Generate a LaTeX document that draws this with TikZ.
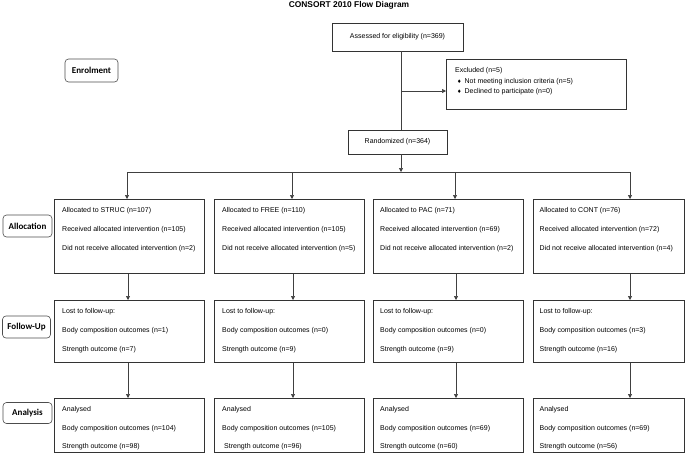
\documentclass[tikz,border=0pt]{standalone}
\usepackage{fontspec}
\setmainfont{Liberation Sans}
\newfontfamily\labfont{Carlito}
\newfontfamily\symfont{DejaVu Sans}
\usetikzlibrary{arrows.meta}
\newcommand\mydia{{\symfont\fontsize{5}{5}\selectfont ♦}}
\begin{document}
\begin{tikzpicture}[x=1pt,y=-1pt,
  box/.style={draw=black!80, line width=0.7pt, rectangle, inner sep=0pt, anchor=north west},
  cbox/.style={box, anchor=center, font=\fontsize{7}{8}\selectfont},
  lab/.style={draw=black!70, line width=0.6pt, rounded corners=3.5pt, inner sep=0pt,
    font=\labfont\bfseries\fontsize{9}{10}\selectfont},
  txt/.style={anchor=north west, align=left, inner sep=0pt, font=\fontsize{7}{19}\selectfont},
  txtb/.style={txt, font=\fontsize{7}{18.5}\selectfont},
  conn/.style={draw=black!75, line width=0.7pt},
  arr/.style={conn, -{Triangle[length=4pt,width=4pt]}}
]
\useasboundingbox (0,0) rectangle (685,461);

% title
\node[font=\bfseries\fontsize{8.4}{10}\selectfont, inner sep=0pt] (title) at (349,5) {CONSORT 2010 Flow Diagram};

% stage labels
\node[lab, minimum width=53pt, minimum height=23pt] (lenr) at (91.5,70.5) {Enrolment};
\node[lab, minimum width=49pt, minimum height=22pt] (lall) at (27.5,226) {Allocation};
\node[lab, minimum width=48pt, minimum height=22pt] (lfol) at (26.5,327) {Follow-Up};
\node[lab, minimum width=49pt, minimum height=21pt] (lana) at (27.5,413) {Analysis};

% enrolment
\node[cbox, minimum width=131pt, minimum height=28pt] (as) at (397.5,37) {Assessed for eligibility (n=369)};
\node[box, minimum width=180pt, minimum height=50pt] (ex) at (446,59) {};
\node[txt, font=\fontsize{7}{10.5}\selectfont] (ext) at ([shift={(9,8.5)}]ex.north west)
  {Excluded (n=5)\\
   \hspace*{2pt}\mydia\hspace{3pt}Not meeting inclusion criteria (n=5)\\
   \hspace*{2pt}\mydia\hspace{3pt}Declined to participate (n=0)};
\node[cbox, minimum width=99pt, minimum height=24pt] (rn) at (397.5,142) {Randomized (n=364)};

\coordinate (v) at (401,0);
\coordinate (j) at (401,91);
\coordinate (h) at (0,172);
\draw[conn] (as.south -| v) -- (rn.north -| v);
\draw[arr] (j) -- (j -| ex.west);
\draw[arr] (rn.south -| v) -- (h -| v);

% column coordinates
\coordinate (c1) at (127,172);
\coordinate (c2) at (292,172);
\coordinate (c3) at (455,172);
\coordinate (c4) at (630,172);
\draw[conn] (c1) -- (c4);

% allocation row
\node[box, minimum width=150pt, minimum height=74pt] (a1) at (54,199) {};
\node[box, minimum width=150pt, minimum height=74pt] (a2) at (214,199) {};
\node[box, minimum width=150pt, minimum height=74pt] (a3) at (373,199) {};
\node[box, minimum width=151pt, minimum height=74pt] (a4) at (533,199) {};
\node[txt] (a1t) at ([shift={(8,8.5)}]a1.north west) {Allocated to STRUC (n=107)\\Received allocated intervention (n=105)\\Did not receive allocated intervention (n=2)};
\node[txt] (a2t) at ([shift={(8,8.5)}]a2.north west) {Allocated to FREE (n=110)\\Received allocated intervention (n=105)\\Did not receive allocated intervention (n=5)};
\node[txt] (a3t) at ([shift={(7,8.5)}]a3.north west) {Allocated to PAC (n=71)\\Received allocated intervention (n=69)\\Did not receive allocated intervention (n=2)};
\node[txt] (a4t) at ([shift={(6.5,8.5)}]a4.north west) {Allocated to CONT (n=76)\\Received allocated intervention (n=72)\\Did not receive allocated intervention (n=4)};

% follow-up row
\node[box, minimum width=150pt, minimum height=62pt] (f1) at (54,300) {};
\node[box, minimum width=150pt, minimum height=62pt] (f2) at (214,300) {};
\node[box, minimum width=150pt, minimum height=62pt] (f3) at (373,300) {};
\node[box, minimum width=151pt, minimum height=62pt] (f4) at (533,300) {};
\node[txt] (f1t) at ([shift={(8,8.5)}]f1.north west) {Lost to follow-up:\\Body composition outcomes (n=1)\\Strength outcome (n=7)};
\node[txt] (f2t) at ([shift={(8,8.5)}]f2.north west) {Lost to follow-up:\\Body composition outcomes (n=0)\\Strength outcome (n=9)};
\node[txt] (f3t) at ([shift={(7,8.5)}]f3.north west) {Lost to follow-up:\\Body composition outcomes (n=0)\\Strength outcome (n=9)};
\node[txt] (f4t) at ([shift={(6.5,8.5)}]f4.north west) {Lost to follow-up:\\Body composition outcomes (n=3)\\Strength outcome (n=16)};

% analysis row
\node[box, minimum width=150pt, minimum height=54pt] (n1) at (54,398) {};
\node[box, minimum width=150pt, minimum height=54pt] (n2) at (214,398) {};
\node[box, minimum width=150pt, minimum height=54pt] (n3) at (373,398) {};
\node[box, minimum width=151pt, minimum height=54pt] (n4) at (533,398) {};
\node[txtb] (n1t) at ([shift={(8,8.5)}]n1.north west) {Analysed\\Body composition outcomes (n=104)\\Strength outcome (n=98)};
\node[txtb] (n2t) at ([shift={(8,8.5)}]n2.north west) {Analysed\\Body composition outcomes (n=105)\\\hspace*{2pt}Strength outcome (n=96)};
\node[txtb] (n3t) at ([shift={(7,8.5)}]n3.north west) {Analysed\\Body composition outcomes (n=69)\\Strength outcome (n=60)};
\node[txtb] (n4t) at ([shift={(6.5,8.5)}]n4.north west) {Analysed\\Body composition outcomes (n=69)\\Strength outcome (n=56)};

% connectors
\foreach \i in {1,2,3,4}{
  \draw[arr] (c\i) -- (a\i.north -| c\i);
}
\coordinate (d1) at (128,0);
\coordinate (d2) at (293,0);
\coordinate (d3) at (456,0);
\coordinate (d4) at (630,0);
\foreach \i in {1,2,3,4}{
  \draw[arr] (a\i.south -| d\i) -- (f\i.north -| d\i);
  \draw[arr] (f\i.south -| d\i) -- (n\i.north -| d\i);
}
\end{tikzpicture}
\end{document}
